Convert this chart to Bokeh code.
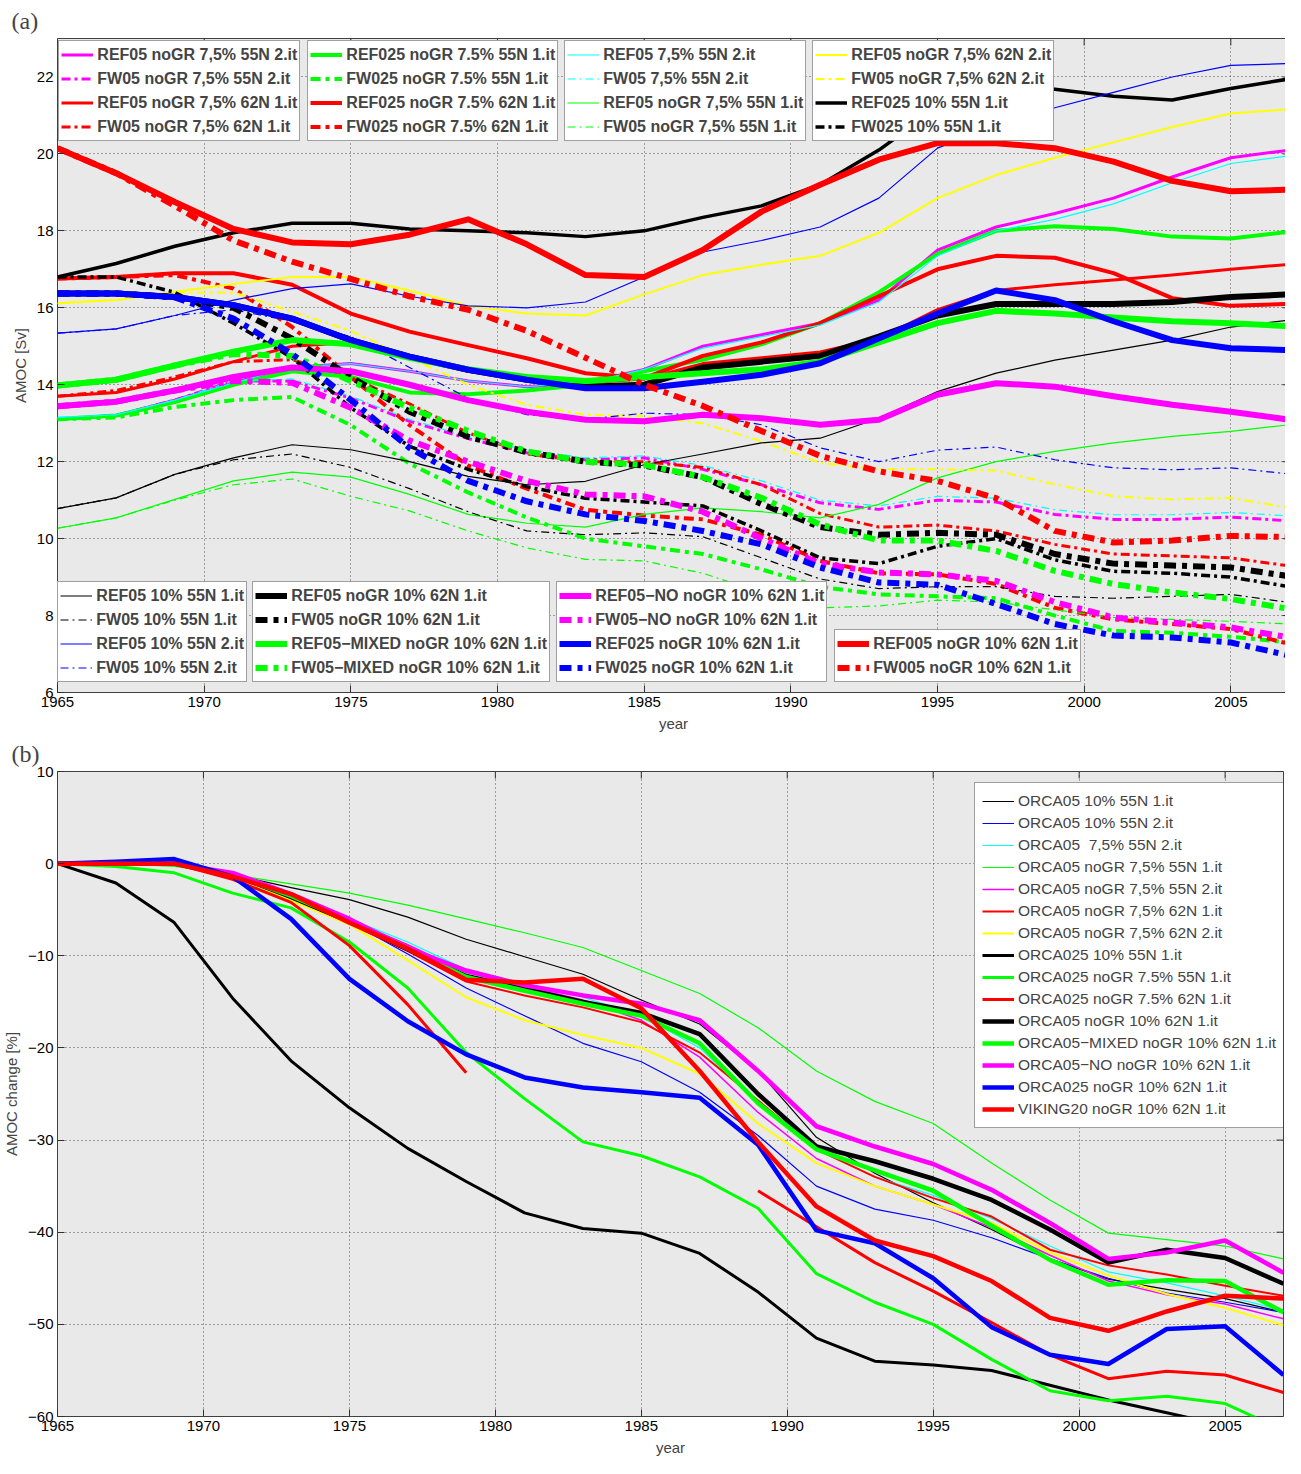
import math
from bokeh.plotting import figure
from bokeh.models import (Legend, LegendItem, FixedTicker, Range1d,
                          CustomJSTickFormatter)
from bokeh.layouts import column
from bokeh.embed import file_html
from bokeh.resources import INLINE

NaN = float("nan")

# ---------------- data ----------------
years = list(range(1965, 2008, 2))
x_ticks = [1965, 1970, 1975, 1980, 1985, 1990, 1995, 2000, 2005]
y_ticks_a = [6, 8, 10, 12, 14, 16, 18, 20, 22]
y_ticks_b = [-60, -50, -40, -30, -20, -10, 0, 10]

# panel (a): AMOC [Sv]
ref05_nogr75_55n_2 = [13.1, 13.2, 13.6, 14.05, 14.45, 14.55, 14.35, 14.1, 13.95, 14.05, 14.4, 15.0, 15.3, 15.6, 16.2, 17.5, 18.1, 18.45, 18.85, 19.4, 19.9, 20.1]
fw05_nogr75_55n_2 = [13.1, 13.2, 13.6, 14.1, 14.1, 13.65, 13.05, 12.6, 12.23, 12.05, 12.1, 11.8, 11.4, 10.93, 10.76, 11.0, 10.95, 10.63, 10.5, 10.5, 10.56, 10.46]
ref05_nogr75_62n_1 = [13.7, 13.8, 14.15, 14.6, 15.0, 15.1, 14.7, 14.35, 14.15, 14.05, 14.15, 14.55, 14.7, 14.85, 15.2, 15.95, 16.45, 16.6, 16.72, 16.85, 17.0, 17.13]
fw05_nogr75_62n_1 = [13.7, 13.85, 14.2, 14.6, 14.65, 14.2, 13.5, 12.75, 12.2, 12.0, 12.0, 11.85, 11.4, 10.65, 10.3, 10.35, 10.2, 9.85, 9.6, 9.55, 9.5, 9.29]
ref025_nogr75_55n_1 = [13.1, 13.2, 13.55, 14.0, 14.35, 14.2, 13.8, 13.75, 13.85, 14.0, 14.35, 14.65, 15.05, 15.6, 16.4, 17.4, 18.0, 18.12, 18.05, 17.85, 17.8, 17.98]
fw025_nogr75_55n_1 = [13.1, 13.15, 13.42, 13.6, 13.68, 12.95, 11.95, 11.2, 10.55, 10.0, 9.8, 9.6, 9.2, 8.75, 8.55, 8.5, 8.45, 8.0, 7.6, 7.55, 7.45, 7.3]
ref025_nogr75_62n_1 = [16.76, 16.8, 16.9, 16.9, 16.6, 15.85, 15.38, 15.03, 14.69, 14.3, 14.17, 14.75, 15.1, 15.6, 16.3, 17.0, 17.35, 17.3, 16.9, 16.25, 16.05, 16.1]
fw025_nogr75_62n_1 = [16.76, 16.8, 16.85, 16.5, 15.5, 14.2, 12.95, 11.9, 11.3, 10.75, 10.6, 10.5, 10.1, 9.42, 9.1, 9.07, 8.82, 8.2, 7.9, 7.78, 7.65, 7.26]
ref05_75_55n_2 = [13.15, 13.22, 13.6, 14.05, 14.45, 14.55, 14.35, 14.1, 13.95, 14.05, 14.4, 14.95, 15.25, 15.55, 16.15, 17.35, 18.0, 18.3, 18.7, 19.25, 19.75, 19.95]
fw05_75_55n_2 = [13.15, 13.22, 13.6, 14.1, 14.15, 13.7, 13.1, 12.65, 12.3, 12.1, 12.15, 11.9, 11.5, 11.0, 10.85, 11.1, 11.05, 10.75, 10.62, 10.62, 10.68, 10.59]
ref05_nogr75_55n_1 = [10.27, 10.54, 11.02, 11.5, 11.73, 11.6, 11.15, 10.63, 10.4, 10.3, 10.63, 10.8, 10.7, 10.54, 10.89, 11.58, 12.0, 12.27, 12.49, 12.66, 12.79, 12.96]
fw05_nogr75_55n_1 = [10.27, 10.54, 11.0, 11.4, 11.55, 11.1, 10.72, 10.2, 9.76, 9.46, 9.42, 9.1, 8.6, 8.2, 8.25, 8.4, 8.35, 8.15, 7.95, 7.9, 7.85, 7.78]
ref05_nogr75_62n_2 = [16.12, 16.2, 16.42, 16.62, 16.8, 16.8, 16.45, 16.05, 15.85, 15.8, 16.35, 16.85, 17.12, 17.35, 17.95, 18.85, 19.45, 19.9, 20.3, 20.7, 21.05, 21.16]
fw05_nogr75_62n_2 = [16.12, 16.2, 16.4, 16.4, 15.9, 15.4, 14.7, 14.0, 13.48, 13.22, 13.18, 13.0, 12.53, 11.97, 11.8, 11.8, 11.77, 11.41, 11.1, 11.02, 11.06, 10.8]
ref025_10_55n_1 = [16.8, 17.15, 17.6, 17.95, 18.2, 18.2, 18.05, 18.0, 17.95, 17.85, 18.0, 18.35, 18.65, 19.2, 20.1, 21.2, 21.8, 21.68, 21.5, 21.4, 21.7, 21.95]
fw025_10_55n_1 = [16.8, 16.8, 16.4, 15.6, 14.7, 13.4, 12.4, 11.8, 11.35, 11.05, 10.95, 10.85, 10.2, 9.5, 9.35, 9.8, 10.0, 9.45, 9.15, 9.1, 9.0, 8.75]
ref05_10_55n_1 = [10.78, 11.06, 11.67, 12.1, 12.44, 12.31, 12.0, 11.62, 11.4, 11.49, 11.92, 12.2, 12.49, 12.61, 13.13, 13.82, 14.3, 14.64, 14.9, 15.16, 15.5, 15.68]
fw05_10_55n_1 = [10.78, 11.06, 11.67, 12.05, 12.2, 11.85, 11.3, 10.7, 10.2, 10.1, 10.15, 10.05, 9.5, 8.95, 8.7, 8.75, 8.75, 8.5, 8.45, 8.5, 8.55, 8.34]
ref05_10_55n_2 = [15.34, 15.45, 15.8, 16.2, 16.5, 16.62, 16.3, 16.05, 16.0, 16.15, 16.8, 17.45, 17.75, 18.1, 18.85, 20.15, 20.75, 21.2, 21.6, 22.0, 22.3, 22.35]
fw05_10_55n_2 = [15.34, 15.45, 15.8, 15.95, 15.65, 15.25, 14.45, 13.65, 13.22, 13.1, 13.26, 13.22, 12.96, 12.36, 12.0, 12.3, 12.38, 12.05, 11.84, 11.79, 11.84, 11.68]
ref05_nogr10_62n_1 = [16.37, 16.37, 16.28, 16.07, 15.72, 15.16, 14.73, 14.39, 14.13, 13.95, 14.0, 14.45, 14.6, 14.75, 15.25, 15.8, 16.1, 16.1, 16.1, 16.15, 16.28, 16.35]
fw05_nogr10_62n_1 = [16.37, 16.37, 16.28, 16.0, 15.2, 14.2, 13.3, 12.65, 12.25, 12.0, 11.9, 11.6, 10.9, 10.3, 10.1, 10.15, 10.1, 9.6, 9.35, 9.3, 9.25, 9.02]
ref05_mixed = [13.98, 14.13, 14.5, 14.86, 15.16, 15.05, 14.7, 14.4, 14.2, 14.1, 14.2, 14.3, 14.4, 14.6, 15.1, 15.6, 15.92, 15.85, 15.75, 15.65, 15.6, 15.52]
fw05_mixed = [13.98, 14.13, 14.5, 14.8, 14.75, 14.1, 13.4, 12.8, 12.27, 12.0, 11.92, 11.6, 11.06, 10.37, 9.95, 9.95, 9.68, 9.16, 8.82, 8.6, 8.43, 8.17]
ref05_no = [13.44, 13.56, 13.85, 14.2, 14.45, 14.35, 14.0, 13.6, 13.3, 13.09, 13.05, 13.22, 13.13, 12.96, 13.09, 13.74, 14.04, 13.95, 13.7, 13.48, 13.3, 13.09]
fw05_no = [13.44, 13.56, 13.85, 14.1, 14.05, 13.4, 12.55, 12.0, 11.5, 11.15, 11.1, 10.7, 10.0, 9.35, 9.12, 9.07, 8.9, 8.35, 7.95, 7.82, 7.69, 7.43]
ref025_nogr10_62n = [16.37, 16.37, 16.28, 16.07, 15.72, 15.16, 14.73, 14.39, 14.13, 13.91, 13.91, 14.08, 14.26, 14.56, 15.2, 15.85, 16.45, 16.2, 15.65, 15.16, 14.95, 14.9]
fw025_nogr10_62n = [16.37, 16.37, 16.27, 15.72, 14.8, 13.6, 12.36, 11.5, 10.97, 10.63, 10.46, 10.2, 9.85, 9.25, 8.86, 8.8, 8.3, 7.78, 7.48, 7.43, 7.3, 6.96]
ref005_nogr10_62n = [20.15, 19.5, 18.75, 18.05, 17.7, 17.65, 17.9, 18.3, 17.65, 16.85, 16.8, 17.5, 18.5, 19.2, 19.85, 20.28, 20.28, 20.15, 19.8, 19.3, 19.03, 19.07]
fw005_nogr10_62n = [20.15, 19.5, 18.65, 17.75, 17.2, 16.75, 16.3, 15.95, 15.4, 14.7, 14.0, 13.45, 12.8, 12.15, 11.75, 11.5, 11.05, 10.2, 9.9, 9.95, 10.07, 10.04]

# panel (b): AMOC change [%]
orca05_10_55n_1 = [0, 0, 0, -1.2, -2.6, -3.9, -5.8, -8.2, -10.1, -12.0, -14.8, -17.4, -22.5, -29.7, -33.6, -36.8, -39.7, -42.9, -45.1, -46.2, -47.2, -48.7]
orca05_10_55n_2 = [0, 0.1, 0.2, -1.0, -3.5, -6.3, -9.8, -13.5, -16.5, -19.5, -21.5, -24.8, -29.5, -35.0, -37.5, -38.7, -40.6, -42.9, -45.0, -46.6, -47.6, -48.7]
orca05_75_55n_2 = [0, 0, 0, -1.2, -3.6, -6.0, -8.5, -11.5, -13.0, -14.5, -16.5, -20.0, -26.0, -31.0, -34.0, -36.0, -38.5, -41.5, -44.3, -45.5, -46.9, -48.5]
orca05_nogr75_55n_1 = [0, 0, -0.3, -1.2, -2.2, -3.2, -4.5, -6.0, -7.5, -9.1, -11.6, -14.1, -17.8, -22.5, -25.8, -28.2, -32.5, -36.5, -40.1, -40.8, -41.5, -42.9]
orca05_nogr75_55n_2 = [0, 0, 0, -1.2, -3.6, -6.1, -8.8, -11.8, -13.3, -14.8, -17.0, -21.0, -27.0, -32.0, -35.0, -37.0, -39.5, -42.5, -45.3, -46.8, -47.8, -49.4]
orca05_nogr75_62n_1 = [0, 0, 0, -1.3, -3.8, -6.5, -9.5, -12.8, -14.3, -15.6, -17.2, -20.5, -25.7, -31.0, -34.0, -36.3, -38.3, -41.9, -43.6, -44.6, -45.8, -46.9]
orca05_nogr75_62n_2 = [0, 0, 0, -1.3, -4.0, -6.6, -10.5, -14.5, -17.0, -18.6, -20.0, -22.8, -28.2, -32.5, -35.0, -37.0, -39.0, -42.2, -44.7, -46.7, -48.2, -50.1]
orca025_10_55n_1 = [0, -2.1, -6.4, -14.6, -21.4, -26.5, -30.9, -34.5, -37.9, -39.6, -40.1, -42.3, -46.5, -51.5, -54.0, -54.4, -55.0, -56.6, -58.2, -59.6, -61.0, -62.5]
orca025_nogr75_55n_1 = [0, -0.3, -1.0, -3.2, -4.8, -8.5, -13.5, -20.5, -25.5, -30.2, -31.7, -34.0, -37.4, -44.5, -47.6, -50.0, -53.8, -57.2, -58.3, -57.8, -58.6, -61.5]
orca025_nogr75_62n_1 = [0, 0, 0, -1.7, -4.2, -8.9, -15.3, -22.7, NaN, NaN, NaN, NaN, -35.5, -39.4, -43.3, -46.4, -49.8, -53.3, -55.9, -55.1, -55.5, -57.4]
orca05_nogr10_62n_1 = [0, 0, 0, -1.2, -3.6, -6.3, -9.3, -12.2, -13.6, -15.0, -16.2, -18.5, -25.0, -30.7, -32.3, -34.2, -36.5, -39.7, -43.3, -41.9, -42.8, -45.6]
orca05_mixed = [0, 0, 0, -1.2, -3.5, -6.2, -9.2, -12.3, -13.8, -15.2, -16.5, -19.5, -26.0, -31.0, -33.3, -35.5, -39.3, -43.0, -45.7, -45.2, -45.3, -48.7]
orca05_no = [0, 0, 0, -1.0, -3.3, -6.0, -9.2, -11.6, -13.2, -14.3, -15.2, -17.0, -22.5, -28.5, -30.7, -32.6, -35.4, -39.0, -42.9, -42.2, -40.9, -44.4]
orca025_nogr10_62n = [0, 0.2, 0.5, -1.4, -6.0, -12.5, -17.1, -20.7, -23.2, -24.3, -24.8, -25.4, -30.5, -39.8, -41.2, -45.0, -50.3, -53.3, -54.3, -50.5, -50.2, -55.5]
viking20_nogr10_62n = [0, 0, 0, -1.4, -3.3, -6.4, -9.2, -12.6, -12.9, -12.5, -15.7, -22.5, -30.2, -37.2, -40.9, -42.6, -45.3, -49.3, -50.7, -48.6, -46.9, -47.2]

# ---------------- styles ----------------
MAG, RED, GRN, CYN, YEL, BLK, BLU = "#ff00ff", "#ff0000", "#00ff00", "#00ffff", "#ffff00", "#000000", "#0000ff"


def dd(w):
    if w <= 1.5:
        return "8 4 2 4"
    if w <= 3.5:
        return "9 4 3 4"
    if w <= 4.5:
        return "10 5 4 5"
    return "12 6 5 6"


# (label, data, color, width, dashed)
series_a = [
    ("REF05 noGR 7,5% 55N 2.it", ref05_nogr75_55n_2, MAG, 3, False),
    ("FW05 noGR 7,5% 55N 2.it", fw05_nogr75_55n_2, MAG, 3, True),
    ("REF05 noGR 7,5% 62N 1.it", ref05_nogr75_62n_1, RED, 3, False),
    ("FW05 noGR 7,5% 62N 1.it", fw05_nogr75_62n_1, RED, 3, True),
    ("REF025 noGR 7.5% 55N 1.it", ref025_nogr75_55n_1, GRN, 4, False),
    ("FW025 noGR 7.5% 55N 1.it", fw025_nogr75_55n_1, GRN, 4, True),
    ("REF025 noGR 7.5% 62N 1.it", ref025_nogr75_62n_1, RED, 4, False),
    ("FW025 noGR 7.5% 62N 1.it", fw025_nogr75_62n_1, RED, 4, True),
    ("REF05 7,5% 55N 2.it", ref05_75_55n_2, CYN, 1.2, False),
    ("FW05 7,5% 55N 2.it", fw05_75_55n_2, CYN, 1.2, True),
    ("REF05 noGR 7,5% 55N 1.it", ref05_nogr75_55n_1, GRN, 1.2, False),
    ("FW05 noGR 7,5% 55N 1.it", fw05_nogr75_55n_1, GRN, 1.2, True),
    ("REF05 noGR 7,5% 62N 2.it", ref05_nogr75_62n_2, YEL, 2, False),
    ("FW05 noGR 7,5% 62N 2.it", fw05_nogr75_62n_2, YEL, 2, True),
    ("REF025 10% 55N 1.it", ref025_10_55n_1, BLK, 3.5, False),
    ("FW025 10% 55N 1.it", fw025_10_55n_1, BLK, 3.5, True),
    ("REF05 10% 55N 1.it", ref05_10_55n_1, BLK, 1.2, False),
    ("FW05 10% 55N 1.it", fw05_10_55n_1, BLK, 1.2, True),
    ("REF05 10% 55N 2.it", ref05_10_55n_2, BLU, 1.2, False),
    ("FW05 10% 55N 2.it", fw05_10_55n_2, BLU, 1.2, True),
    ("REF05 noGR 10% 62N 1.it", ref05_nogr10_62n_1, BLK, 6, False),
    ("FW05 noGR 10% 62N 1.it", fw05_nogr10_62n_1, BLK, 6, True),
    ("REF05\u2212MIXED noGR 10% 62N 1.it", ref05_mixed, GRN, 6, False),
    ("FW05\u2212MIXED noGR 10% 62N 1.it", fw05_mixed, GRN, 6, True),
    ("REF05\u2212NO noGR 10% 62N 1.it", ref05_no, MAG, 6, False),
    ("FW05\u2212NO noGR 10% 62N 1.it", fw05_no, MAG, 6, True),
    ("REF025 noGR 10% 62N 1.it", ref025_nogr10_62n, BLU, 6, False),
    ("FW025 noGR 10% 62N 1.it", fw025_nogr10_62n, BLU, 6, True),
    ("REF005 noGR 10% 62N 1.it", ref005_nogr10_62n, RED, 6, False),
    ("FW005 noGR 10% 62N 1.it", fw005_nogr10_62n, RED, 6, True),
]

series_b = [
    ("ORCA05 10% 55N 1.it", orca05_10_55n_1, BLK, 1.2),
    ("ORCA05 10% 55N 2.it", orca05_10_55n_2, BLU, 1.2),
    ("ORCA05  7,5% 55N 2.it", orca05_75_55n_2, CYN, 1.2),
    ("ORCA05 noGR 7,5% 55N 1.it", orca05_nogr75_55n_1, GRN, 1.2),
    ("ORCA05 noGR 7,5% 55N 2.it", orca05_nogr75_55n_2, MAG, 1.5),
    ("ORCA05 noGR 7,5% 62N 1.it", orca05_nogr75_62n_1, RED, 2),
    ("ORCA05 noGR 7,5% 62N 2.it", orca05_nogr75_62n_2, YEL, 2),
    ("ORCA025 10% 55N 1.it", orca025_10_55n_1, BLK, 3),
    ("ORCA025 noGR 7.5% 55N 1.it", orca025_nogr75_55n_1, GRN, 3),
    ("ORCA025 noGR 7.5% 62N 1.it", orca025_nogr75_62n_1, RED, 3),
    ("ORCA05 noGR 10% 62N 1.it", orca05_nogr10_62n_1, BLK, 4.5),
    ("ORCA05\u2212MIXED noGR 10% 62N 1.it", orca05_mixed, GRN, 4.5),
    ("ORCA05\u2212NO noGR 10% 62N 1.it", orca05_no, MAG, 4.5),
    ("ORCA025 noGR 10% 62N 1.it", orca025_nogr10_62n, BLU, 4.5),
    ("VIKING20 noGR 10% 62N 1.it", viking20_nogr10_62n, RED, 4.5),
]

FONT = "Liberation Sans"
minus_fmt = CustomJSTickFormatter(code="return String(tick).replace('-', '\u2212');")
TICK_COL = "#303030"


def make_fig(title, x0, x1, y0, y1, yticks, ylabel, fw, fh, standoff):
    p = figure(frame_width=fw, frame_height=fh, x_range=Range1d(x0, x1),
               y_range=Range1d(y0, y1), output_backend="svg", toolbar_location=None,
               title=title, min_border_left=10, min_border_right=4,
               min_border_top=10, min_border_bottom=10)
    p.background_fill_color = "#e9e9e9"
    p.border_fill_color = "white"
    p.outline_line_color = "#404040"
    p.title.text_font = "Liberation Serif"
    p.title.text_font_size = "24px"
    p.title.text_font_style = "normal"
    p.title.align = "left"
    p.title.offset = -46
    p.title.standoff = standoff
    for ax in (p.xaxis[0], p.yaxis[0]):
        ax.major_tick_in = 7
        ax.major_tick_out = 0
        ax.minor_tick_line_color = None
        ax.axis_line_color = None
        ax.major_tick_line_color = TICK_COL
        ax.major_label_text_font = FONT
        ax.major_label_text_font_size = "15px"
        ax.major_label_text_color = "black"
        ax.major_label_standoff = 4
        ax.axis_label_text_font = FONT
        ax.axis_label_text_font_size = "15px"
        ax.axis_label_text_font_style = "normal"
        ax.axis_label_standoff = 5
    p.xaxis.ticker = FixedTicker(ticks=x_ticks)
    p.yaxis.ticker = FixedTicker(ticks=yticks)
    p.yaxis.formatter = minus_fmt
    p.xaxis.axis_label = "year"
    p.yaxis.axis_label = ylabel
    for g in (p.xgrid[0], p.ygrid[0]):
        g.grid_line_color = "#505050"
        g.grid_line_dash = "1 3"
        g.grid_line_width = 1
    p.xgrid.ticker = FixedTicker(ticks=x_ticks)
    p.ygrid.ticker = FixedTicker(ticks=yticks)
    # mirrored inward ticks on the top and right edges of the box
    p.ray(x=[x1] * len(yticks), y=yticks, length=7, length_units="screen",
          angle=math.pi, line_color=TICK_COL, line_width=1)
    p.ray(x=x_ticks, y=[y1] * len(x_ticks), length=7, length_units="screen",
          angle=-math.pi / 2, line_color=TICK_COL, line_width=1)
    return p


# ---------------- panel (a) ----------------
FH_A = 654
pa = make_fig("(a)", 1965, 2007, 6, 23, y_ticks_a, "AMOC [Sv]", 1232, FH_A, 10)
rends_a = []
for lab, data, col, w, dashed in series_a:
    r = pa.line(years, data, line_color=col, line_width=w,
                line_dash=dd(w) if dashed else "solid", line_join="round")
    rends_a.append(r)

LEG_H_A = 4 * 23 + 3 * 1 + 2 * 2
groups = [
    (list(range(0, 4)), (8, FH_A - 4 - LEG_H_A)),
    (list(range(4, 8)), (257, FH_A - 4 - LEG_H_A)),
    (list(range(8, 12)), (514, FH_A - 4 - LEG_H_A)),
    (list(range(12, 16)), (762, FH_A - 4 - LEG_H_A)),
    (list(range(16, 20)), (7, 10)),
    (list(range(20, 24)), (202, 10)),
    (list(range(24, 28)), (506, 10)),
    (list(range(28, 30)), (784, 10)),
]
for idx, loc in groups:
    items = [LegendItem(label=series_a[i][0], renderers=[rends_a[i]]) for i in idx]
    leg = Legend(items=items, location=loc, orientation="vertical",
                 border_line_color="#404040", border_line_width=1,
                 background_fill_color="white", background_fill_alpha=1.0,
                 label_text_font=FONT, label_text_font_style="bold",
                 label_text_font_size="16px", glyph_width=32, glyph_height=23,
                 label_height=23, label_standoff=4, padding=2, spacing=1, margin=0)
    pa.add_layout(leg, "center")

# ---------------- panel (b) ----------------
FH_B = 645
pb = make_fig("(b)", 1965, 2007, -60, 10, y_ticks_b, "AMOC change [%]", 1226, FH_B, 9)
items_b = []
for lab, data, col, w in series_b:
    r = pb.line(years, data, line_color=col, line_width=w, line_join="round")
    items_b.append(LegendItem(label=lab, renderers=[r]))
leg_b = Legend(items=items_b, location=(917, FH_B - 13 - 344), orientation="vertical",
               border_line_color="#404040", border_line_width=1,
               background_fill_color="white", background_fill_alpha=1.0,
               label_text_font=FONT, label_text_font_style="normal",
               label_text_font_size="15.5px", glyph_width=32, glyph_height=22,
               label_height=22, label_standoff=4, padding=7, spacing=0, margin=0)
pb.add_layout(leg_b, "center")

layout = column(pa, pb, spacing=0)
open("out.html", "w").write(file_html(layout, INLINE))
